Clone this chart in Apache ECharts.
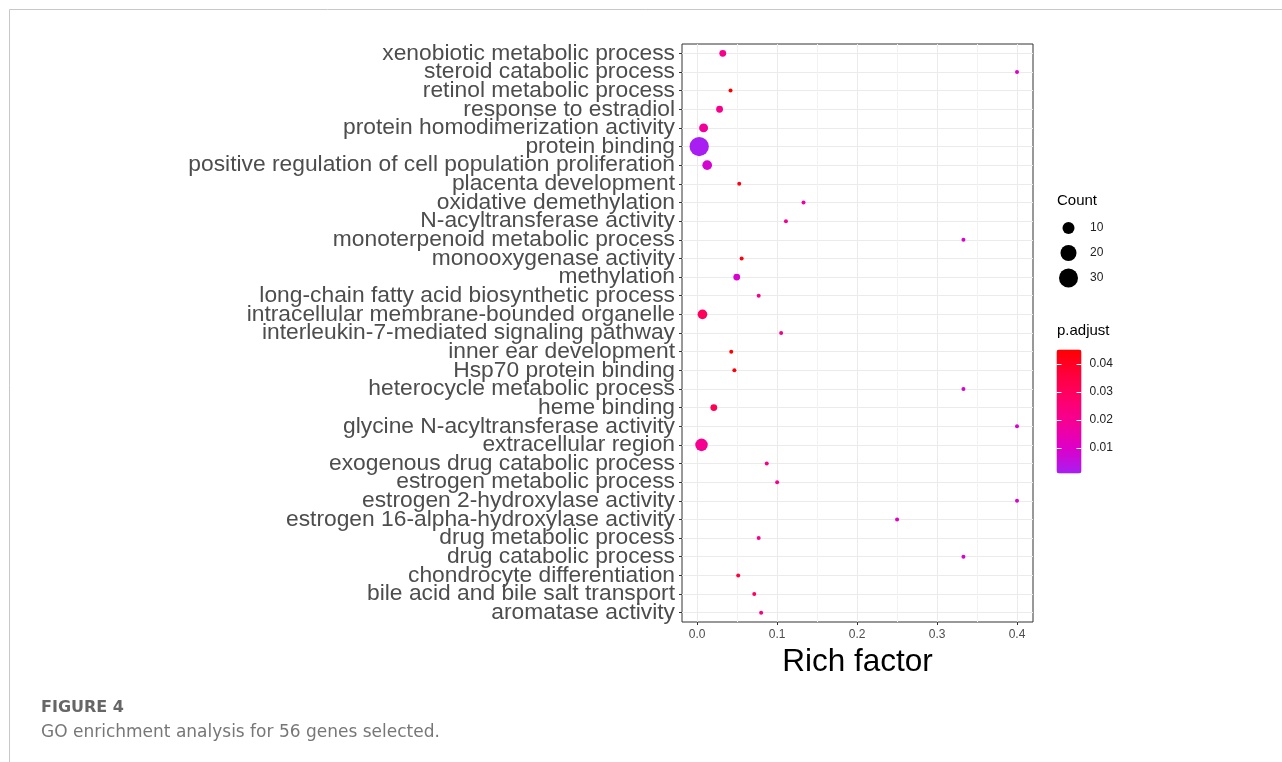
<!DOCTYPE html>
<html><head><meta charset="utf-8">
<script src="https://cdn.jsdelivr.net/npm/echarts@6/dist/echarts.min.js"></script>
<style>html,body{margin:0;padding:0;background:#fff}#c{width:1282px;height:762px}</style>
</head><body><div id="c"></div>
<script>
const categories = [
  'xenobiotic metabolic process','steroid catabolic process','retinol metabolic process',
  'response to estradiol','protein homodimerization activity','protein binding',
  'positive regulation of cell population proliferation','placenta development',
  'oxidative demethylation','N-acyltransferase activity','monoterpenoid metabolic process',
  'monooxygenase activity','methylation','long-chain fatty acid biosynthetic process',
  'intracellular membrane-bounded organelle','interleukin-7-mediated signaling pathway',
  'inner ear development','Hsp70 protein binding','heterocycle metabolic process',
  'heme binding','glycine N-acyltransferase activity','extracellular region',
  'exogenous drug catabolic process','estrogen metabolic process',
  'estrogen 2-hydroxylase activity','estrogen 16-alpha-hydroxylase activity',
  'drug metabolic process','drug catabolic process','chondrocyte differentiation',
  'bile acid and bile salt transport','aromatase activity'
];
const richFactor = [0.032,0.4,0.0417,0.028,0.008,0.0025,0.0125,0.0526,0.133,0.111,0.333,
  0.0556,0.0495,0.0769,0.0066,0.105,0.0426,0.0465,0.333,0.0208,0.4,0.0054,0.087,0.1,0.4,
  0.25,0.0769,0.333,0.0513,0.0714,0.08];
const geneCount = [3,2,2,3,5,31,6,2,2,2,2,2,3,2,6,2,2,2,2,3,2,11,2,2,2,2,2,2,2,2,2];
const pAdjust = [0.021,0.0097,0.045,0.021,0.018,0.0009,0.008,0.042,0.017,0.02,0.009,
  0.043,0.009,0.022,0.03,0.022,0.045,0.044,0.009,0.032,0.009,0.02,0.022,0.021,0.009,
  0.012,0.022,0.009,0.036,0.03,0.024];
const xTicks = [0, 0.1, 0.2, 0.3, 0.4];
const xMinorTicks = [0.05, 0.15, 0.25, 0.35];
const legendCounts = [10, 20, 30];
const pTicks = [0.01, 0.02, 0.03, 0.04];
const pRange = [0.0009, 0.0451];
const colorStops = ['#A81EF2', '#DC00C8', '#F40098', '#FF006A', '#FF003C', '#FF0000'];

function dotSize(c) { return 4 + 2.84 * Math.sqrt(Math.max(c - 2, 0)); }

const points = categories.map((c, i) => [richFactor[i], c, pAdjust[i], geneCount[i]]);
const legendPoints = legendCounts.map(c => [0.5, String(c), c]);

const chart = echarts.init(document.getElementById('c'), null, {renderer: 'canvas'});
const FONT = 'Liberation Sans, Arial, sans-serif';
chart.setOption({
  animation: false,
  backgroundColor: '#fff',
  textStyle: {fontFamily: FONT},
  grid: [
    {left: 682, top: 44, width: 351, height: 578, show: true, borderColor: '#333', borderWidth: 1,
     backgroundColor: '#fff', containLabel: false, outerBoundsMode: 'none'},
    {left: 1058, top: 215.5, width: 21, height: 75, containLabel: false, outerBoundsMode: 'none'},
    {left: 1056.5, top: 349.5, width: 25, height: 124, containLabel: false, outerBoundsMode: 'none'}
  ],
  xAxis: [
    {gridIndex: 0, type: 'value', min: -0.019, max: 0.42,
     axisLine: {show: false, onZero: false},
     axisTick: {show: true, length: 3, lineStyle: {color: '#333'}, customValues: xTicks},
     axisLabel: {customValues: xTicks, formatter: v => v.toFixed(1), fontSize: 12, color: '#4d4d4d', margin: 7},
     splitLine: {show: true, lineStyle: {color: '#EBEBEB', width: 1}},
     name: 'Rich factor', nameLocation: 'middle', nameGap: 20,
     nameTextStyle: {fontSize: 31.5, color: '#000'}},
    {gridIndex: 1, type: 'value', min: 0, max: 1, show: false, axisLine: {onZero: false}},
    {gridIndex: 2, type: 'value', min: 0, max: 1, show: false, axisLine: {onZero: false}}
  ],
  yAxis: [
    {gridIndex: 0, type: 'category', data: categories, inverse: true,
     axisLine: {show: false, onZero: false},
     axisTick: {show: true, length: 3, alignWithLabel: true, interval: 0, lineStyle: {color: '#333'}},
     axisLabel: {interval: 0, fontSize: 22.8, color: '#4d4d4d', margin: 7},
     splitLine: {show: true, alignWithLabel: true, interval: 0, lineStyle: {color: '#EBEBEB', width: 1}}},
    {gridIndex: 1, type: 'category', data: legendCounts.map(String), inverse: true, position: 'right',
     axisLine: {show: false, onZero: false}, axisTick: {show: false},
     axisLabel: {fontSize: 12, color: '#222', margin: 11, interval: 0}, splitLine: {show: false}},
    {gridIndex: 2, type: 'value', min: pRange[0], max: pRange[1], position: 'right', z: 10,
     axisLine: {show: false, onZero: false},
     axisTick: {show: true, inside: true, length: 5, customValues: pTicks, lineStyle: {color: '#fff', width: 1}},
     axisLabel: {customValues: pTicks, fontSize: 12, color: '#222', margin: 8, formatter: v => v.toFixed(2)},
     splitLine: {show: false}},
    {gridIndex: 2, type: 'value', min: pRange[0], max: pRange[1], position: 'left', z: 10,
     axisLine: {show: false, onZero: false},
     axisTick: {show: true, inside: true, length: 5, customValues: pTicks, lineStyle: {color: '#fff', width: 1}},
     axisLabel: {show: false}, splitLine: {show: false}}
  ],
  visualMap: [{
    type: 'continuous', seriesIndex: 0, dimension: 2, min: pRange[0], max: pRange[1],
    left: 1056.5, top: 349.5, itemWidth: 25, itemHeight: 124, padding: 0, z: 2,
    calculable: false, hoverLink: false, text: null, showLabel: false,
    inRange: {color: colorStops}
  }],
  series: [
    {type: 'scatter', xAxisIndex: 0, yAxisIndex: 0, z: 5, data: points, symbol: 'circle',
     itemStyle: {opacity: 1}, symbolSize: v => dotSize(v[3])},
    {type: 'scatter', xAxisIndex: 1, yAxisIndex: 1, data: legendPoints, symbol: 'circle',
     symbolSize: v => dotSize(v[2]), itemStyle: {color: '#000', opacity: 1}},
    {type: 'scatter', xAxisIndex: 0, yAxisIndex: 0, z: 1, data: [], silent: true,
     markLine: {silent: true, symbol: 'none', label: {show: false},
       lineStyle: {color: '#F2F2F2', width: 1, type: 'solid'},
       data: xMinorTicks.map(v => ({xAxis: v}))}}
  ],
  graphic: [
    {type: 'line', shape: {x1: 9.5, y1: 9.5, x2: 1282, y2: 9.5}, style: {stroke: '#c8c8c8', lineWidth: 1}},
    {type: 'line', shape: {x1: 9.5, y1: 9.5, x2: 9.5, y2: 762}, style: {stroke: '#c8c8c8', lineWidth: 1}},
    {type: 'text', x: 1057, y: 201, style: {text: 'Count', fontSize: 15, fontFamily: FONT, fill: '#000', verticalAlign: 'middle'}},
    {type: 'text', x: 1057, y: 331, style: {text: 'p.adjust', fontSize: 15, fontFamily: FONT, fill: '#000', verticalAlign: 'middle'}},
    {type: 'text', x: 41, y: 708, style: {text: 'FIGURE 4', fontSize: 16, fontWeight: 'bold', fontFamily: 'DejaVu Sans, sans-serif', fill: '#666', verticalAlign: 'middle'}},
    {type: 'text', x: 41, y: 733, style: {text: 'GO enrichment analysis for 56 genes selected.', fontSize: 17, fontFamily: 'DejaVu Sans, sans-serif', fill: '#777', verticalAlign: 'middle'}}
  ]
});
</script></body></html>
